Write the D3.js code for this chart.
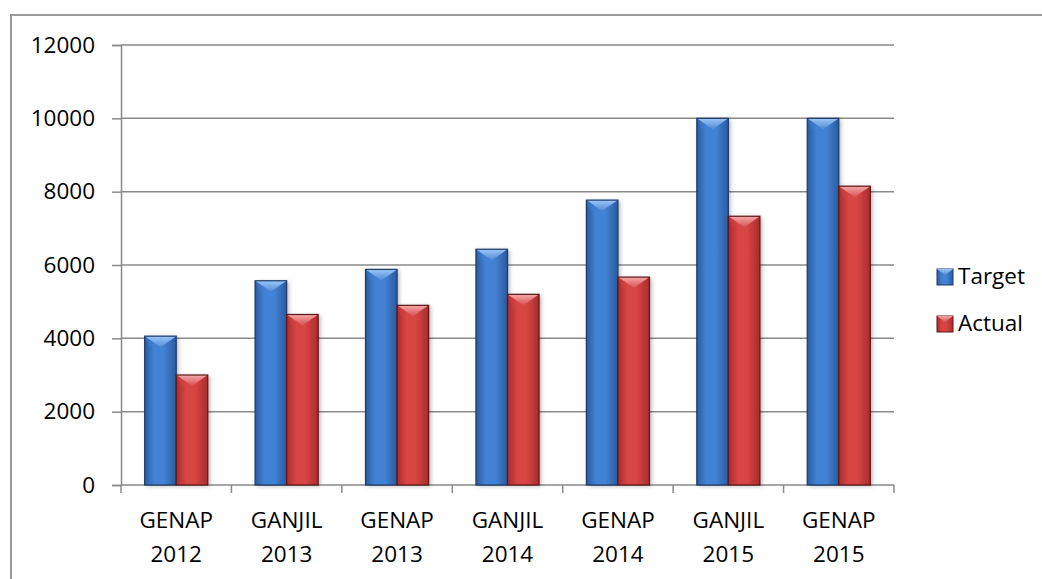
<!DOCTYPE html>
<html>
<head>
<meta charset="utf-8">
<script src="https://cdn.jsdelivr.net/npm/d3@7"></script>
<style>
  html, body { margin: 0; padding: 0; background: #fff; }
  svg { display: block; font-family: "Open Sans", "Noto Sans", sans-serif; }
</style>
</head>
<body>
<svg id="chart" width="1042" height="579"></svg>
<script>
// Semester enrolment: target vs actual
const categories = [
  ["GENAP", "2012"], ["GANJIL", "2013"], ["GENAP", "2013"], ["GANJIL", "2014"],
  ["GENAP", "2014"], ["GANJIL", "2015"], ["GENAP", "2015"]
];
const targetValues = [4060, 5570, 5880, 6430, 7770, 10000, 10000];
const actualValues = [3000, 4650, 4900, 5200, 5670, 7330, 8150];
const yTicks = [0, 2000, 4000, 6000, 8000, 10000, 12000];
const seriesNames = ["Target", "Actual"];

const plot = { left: 121, right: 894, top: 45, bottom: 485 };
const FONT_SIZE = 22.5;

const svg = d3.select("#chart");
const defs = svg.append("defs");

const palettes = {
  Target: { edge: "#2a5b9f", mid: "#4382d4", line: "#1c3a66", cap: "#9cc6f8", capEdge: "#4f8ad6" },
  Actual: { edge: "#a82c2c", mid: "#d84444", line: "#5e1616", cap: "#f6a8a8", capEdge: "#d65050" }
};

// horizontal shading for the bar bodies, vertical shading for the bevelled caps
Object.entries(palettes).forEach(([name, p]) => {
  const g = defs.append("linearGradient").attr("id", "body-" + name)
    .attr("x1", "0%").attr("x2", "100%").attr("y1", "0%").attr("y2", "0%");
  g.append("stop").attr("offset", "0%").attr("stop-color", p.edge);
  g.append("stop").attr("offset", "30%").attr("stop-color", p.mid);
  g.append("stop").attr("offset", "60%").attr("stop-color", p.mid);
  g.append("stop").attr("offset", "100%").attr("stop-color", p.edge);
  const c = defs.append("linearGradient").attr("id", "cap-" + name)
    .attr("x1", "0%").attr("x2", "0%").attr("y1", "0%").attr("y2", "100%");
  c.append("stop").attr("offset", "0%").attr("stop-color", p.cap);
  c.append("stop").attr("offset", "100%").attr("stop-color", p.capEdge);
});

const shadow = defs.append("filter").attr("id", "shadow")
  .attr("x", "-20%").attr("y", "-5%").attr("width", "150%").attr("height", "115%");
shadow.append("feDropShadow").attr("dx", 2).attr("dy", 1).attr("stdDeviation", 2)
  .attr("flood-color", "#000").attr("flood-opacity", 0.3);

// outer frame
svg.append("rect").attr("x", 11).attr("y", 15).attr("width", 1100).attr("height", 700)
  .attr("fill", "none").attr("stroke", "#999").attr("stroke-width", 2);

const x = d3.scaleBand().domain(d3.range(categories.length)).range([plot.left, plot.right]);
const barW = x.bandwidth() / 3.5;
const xs = d3.scaleBand().domain(seriesNames).range([0, 2 * barW]);
const y = d3.scaleLinear().domain([0, 12000]).range([plot.bottom, plot.top]);

// gridlines
svg.append("g").selectAll("line").data(yTicks.filter(d => d > 0)).join("line")
  .attr("x1", plot.left).attr("x2", plot.right)
  .attr("y1", d => y(d)).attr("y2", d => y(d))
  .attr("stroke", "#8a8a8a").attr("stroke-width", 1.5);

// y axis
const yAxis = svg.append("g").attr("transform", `translate(${plot.left},0)`)
  .call(d3.axisLeft(y).tickValues(yTicks).tickSize(9).tickPadding(17).tickFormat(d3.format("d")));
yAxis.select(".domain").attr("stroke", "#8a8a8a").attr("stroke-width", 1.5);
yAxis.selectAll(".tick line").attr("stroke", "#8a8a8a").attr("stroke-width", 1.5);
yAxis.selectAll(".tick text").attr("font-size", FONT_SIZE).attr("fill", "#000")
  .attr("font-family", "'Open Sans', sans-serif");

// x axis with ticks at category boundaries
const xAxisG = svg.append("g");
xAxisG.append("line").attr("x1", plot.left).attr("x2", plot.right)
  .attr("y1", plot.bottom).attr("y2", plot.bottom)
  .attr("stroke", "#8a8a8a").attr("stroke-width", 1.5);
const bounds = d3.range(categories.length + 1).map(i => i < categories.length ? x(i) : plot.right);
xAxisG.selectAll("line.tk").data(bounds).join("line").attr("class", "tk")
  .attr("x1", d => d).attr("x2", d => d).attr("y1", plot.bottom).attr("y2", plot.bottom + 8)
  .attr("stroke", "#8a8a8a").attr("stroke-width", 1.5);
const labels = xAxisG.selectAll("text").data(categories).join("text")
  .attr("text-anchor", "middle").attr("font-size", FONT_SIZE).attr("fill", "#000");
labels.append("tspan").attr("x", (d, i) => x(i) + x.bandwidth() / 2).attr("y", 528).text(d => d[0]);
labels.append("tspan").attr("x", (d, i) => x(i) + x.bandwidth() / 2).attr("y", 562).text(d => d[1]);

// bars
function drawBar(g, name, x0, v) {
  const p = palettes[name];
  const top = y(v), bot = y(0), w = barW;
  const cx = x0 + w / 2, bev = 11;
  const b = g.append("g");
  b.append("rect").attr("x", x0).attr("y", top).attr("width", w).attr("height", bot - top)
    .attr("fill", `url(#body-${name})`).attr("filter", "url(#shadow)");
  // bevel facets at the top of the bar
  b.append("polygon")
    .attr("points", [[x0, top], [x0 + w, top], [cx, top + bev]].map(q => q.join(",")).join(" "))
    .attr("fill", `url(#cap-${name})`);
  b.append("polygon")
    .attr("points", [[x0, top], [cx, top + bev], [x0 + 4, top + bev]].map(q => q.join(",")).join(" "))
    .attr("fill", p.mid).attr("opacity", 0.35);
  b.append("rect").attr("x", x0).attr("y", top).attr("width", w).attr("height", bot - top)
    .attr("fill", "none").attr("stroke", p.line).attr("stroke-width", 1.2);
}

const barsG = svg.append("g");
categories.forEach((c, i) => {
  const gx = x(i) + (x.bandwidth() - 2 * barW) / 2;
  drawBar(barsG, "Target", gx + xs("Target"), targetValues[i]);
  drawBar(barsG, "Actual", gx + xs("Actual"), actualValues[i]);
});

// legend
const legend = svg.append("g");
seriesNames.forEach((name, i) => {
  const p = palettes[name];
  const ly = 269 + i * 47;
  legend.append("rect").attr("x", 937).attr("y", ly).attr("width", 16).attr("height", 16)
    .attr("fill", `url(#body-${name})`).attr("stroke", p.line).attr("stroke-width", 1);
  legend.append("polygon")
    .attr("points", [[937, ly], [953, ly], [945, ly + 6]].map(q => q.join(",")).join(" "))
    .attr("fill", `url(#cap-${name})`);
  legend.append("text").attr("x", 958).attr("y", ly + 15).attr("font-size", FONT_SIZE)
    .attr("fill", "#000").text(name);
});
</script>
</body>
</html>
